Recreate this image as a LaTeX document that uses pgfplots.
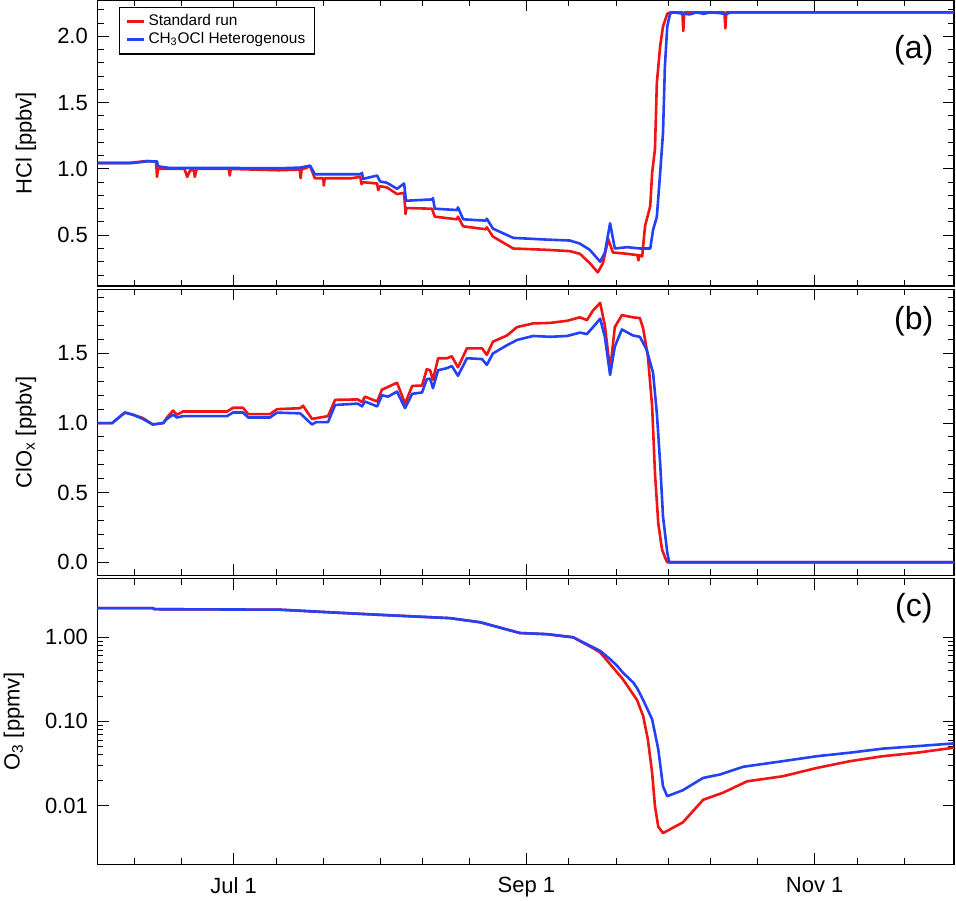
\documentclass[border=0pt]{standalone}
\usepackage{fontspec}
\setmainfont{Liberation Sans}
\usepackage{pgfplots}
\pgfplotsset{compat=1.18}
\definecolor{myred}{RGB}{240,20,20}
\definecolor{myblue}{RGB}{35,65,245}
\begin{document}
\begin{tikzpicture}
\pgfplotsset{
 panel/.style={
  width=428.25pt, height=142.9pt, scale only axis, anchor=south west,
  xmin=153.2, xmax=334.5,
  xtick={182,244,305},
  minor xtick={161,171,191,201,213,222,232,253,263,274,283,293,314,324},
  xticklabels={},
  tick align=inside,
  major tick length=5.5pt, minor tick length=3pt,
  every tick/.style={black, line width=0.5pt},
  axis line style={line width=0.8pt},
  tick label style={font=\fontsize{11}{13}\selectfont},
  yticklabel style={xshift=-1.3pt},
  xticklabel style={yshift=-3pt},
  label style={font=\fontsize{11}{13}\selectfont},
  /pgf/number format/assume math mode=true,
  every axis plot/.append style={line width=1.3pt, line join=round, no markers},
 },
}
% ---------------- (a) HCl ----------------
\begin{axis}[panel, at={(0,289pt)},
  ymin=0.115, ymax=2.27,
  ytick={0.5,1.0,1.5,2.0},
  minor ytick={0.2,0.3,0.4,0.6,0.7,0.8,0.9,1.1,1.2,1.3,1.4,1.6,1.7,1.8,1.9,2.1,2.2},
  yticklabel style={/pgf/number format/.cd, fixed, fixed zerofill, precision=1},
  ylabel={HCl [ppbv]},
  ylabel style={at={(axis description cs:-0.0835,0.5)}, anchor=center},
  legend style={at={(0.025,0.977)}, anchor=north west, draw=black, line width=0.6pt,
    font=\fontsize{7.7}{9}\selectfont, inner xsep=3pt, inner ysep=2pt, row sep=-1pt,
    nodes={inner sep=1.5pt}},
  legend cell align=left,
  legend image code/.code={\draw[#1, line width=1.5pt] (0pt,0pt) -- (8.5pt,0pt);},
]
\addplot[myred] coordinates {
(153.2,1.045) (160.0,1.045) (163.7,1.06) (165.6,1.055) (165.8,0.94) (166.0,1.0)
(171.6,1.0) (172.2,0.94) (172.8,0.99) (173.6,0.99) (173.8,0.94) (174.2,1.0)
(181.0,1.0) (181.2,0.95) (181.4,1.0) (191.5,0.99) (196.0,0.995) (196.2,0.93) (196.4,0.995)
(198.2,1.02) (199.2,0.93) (201.0,0.93) (201.1,0.875) (201.3,0.93) (207.0,0.93) (208.8,0.94)
(209.1,0.885) (209.4,0.90) (212.4,0.89) (212.6,0.84) (213.0,0.87) (214.5,0.86) (216.6,0.81)
(218.1,0.82) (218.4,0.66) (218.6,0.705) (224.0,0.70) (224.6,0.64) (229.3,0.62) (229.5,0.64)
(230.6,0.567) (235.4,0.545) (235.6,0.56) (236.9,0.49) (241.2,0.40) (248.3,0.39) (253.2,0.38)
(255.3,0.36) (257.4,0.29) (259.1,0.22) (260.2,0.29) (261.3,0.47) (262.3,0.37) (265.3,0.36)
(267.5,0.35) (267.7,0.31) (267.9,0.35) (268.5,0.34) (269.1,0.57) (270.2,0.72) (270.6,0.97)
(271.2,1.15) (271.6,1.65) (272.3,1.925) (272.9,2.075) (273.8,2.17) (274.5,2.18) (277.0,2.18)
(277.2,2.04) (277.4,2.18) (285.9,2.18) (286.1,2.06) (286.3,2.18) (289.2,2.18) (334.5,2.18)
};
\addlegendentry{Standard run}
\addplot[myblue] coordinates {
(153.2,1.045) (160.7,1.045) (163.7,1.057) (165.8,1.057) (166.0,1.02) (168.5,1.007) (181.0,1.007)
(191.8,1.005) (196.1,1.01) (198.2,1.025) (199.2,0.96) (208.8,0.96) (209.2,0.97) (209.4,0.925)
(212.4,0.95) (213.0,0.906) (214.5,0.895) (216.6,0.85) (218.1,0.89) (218.5,0.76) (224.0,0.77)
(224.2,0.78) (224.6,0.70) (229.3,0.69) (229.5,0.71) (230.6,0.62) (235.4,0.61) (235.6,0.625)
(236.9,0.55) (241.2,0.48) (248.3,0.467) (253.2,0.46) (255.3,0.437) (257.4,0.39) (259.6,0.30)
(260.6,0.37) (261.7,0.59) (262.7,0.40) (265.3,0.41) (268.0,0.40) (270.2,0.40) (270.8,0.54)
(271.6,0.64) (272.3,0.97) (272.9,1.27) (273.3,1.77) (273.8,2.075) (274.4,2.17) (275.0,2.18)
(277.5,2.17) (278.5,2.165) (280.0,2.18) (281.5,2.17) (283.0,2.18) (285.0,2.175) (286.3,2.165)
(287.0,2.18) (334.5,2.18)
};
\addlegendentry{CH\textsubscript{3}OCl Heterogenous}
\node[font=\fontsize{16}{18}\selectfont] at (rel axis cs:0.953,0.827) {(a)};
\end{axis}
% ---------------- (b) ClOx ----------------
\begin{axis}[panel, at={(0,144.5pt)},
  ymin=-0.094, ymax=1.96,
  ytick={0,0.5,1.0,1.5},
  minor ytick={0.1,0.2,0.3,0.4,0.6,0.7,0.8,0.9,1.1,1.2,1.3,1.4,1.6,1.7,1.8,1.9},
  yticklabel style={/pgf/number format/.cd, fixed, fixed zerofill, precision=1},
  ylabel={ClO\textsubscript{x} [ppbv]},
  ylabel style={at={(axis description cs:-0.0835,0.5)}, anchor=center},
]
\addplot[myred] coordinates {
(153.2,1.0) (156.3,1.0) (159.0,1.076) (160.7,1.06) (162.8,1.036) (164.9,0.99) (167.1,1.0)
(167.9,1.04) (169.2,1.09) (170.0,1.06) (171.3,1.083) (180.6,1.083) (181.9,1.11) (184.0,1.11)
(185.1,1.064) (189.7,1.064) (191.2,1.10) (196.1,1.107) (196.7,1.125) (198.6,1.03) (202.0,1.05)
(203.5,1.167) (208.3,1.17) (209.2,1.15) (209.8,1.19) (212.4,1.155) (213.4,1.24) (214.7,1.26)
(216.6,1.29) (218.3,1.14) (219.8,1.267) (221.9,1.27) (222.9,1.387) (223.6,1.38) (224.2,1.31)
(225.3,1.466) (227.2,1.466) (228.2,1.48) (229.5,1.40) (231.4,1.537) (234.6,1.537) (235.6,1.49)
(236.9,1.585) (239.9,1.63) (242.0,1.69) (245.4,1.716) (249.0,1.72) (252.6,1.735) (255.3,1.76)
(256.8,1.74) (258.1,1.81) (259.6,1.864) (260.6,1.70) (261.7,1.38) (262.7,1.69) (264.2,1.776)
(266.5,1.76) (268.0,1.755) (268.7,1.68) (269.7,1.48) (270.6,1.12) (271.2,0.64) (271.9,0.28)
(272.7,0.09) (273.5,0.02) (273.8,0.0) (334.5,0.0)
};
\addplot[myblue] coordinates {
(153.2,1.0) (156.3,1.0) (159.0,1.076) (160.7,1.06) (162.8,1.03) (164.9,0.99) (167.1,1.0)
(167.9,1.03) (169.2,1.06) (170.0,1.04) (171.3,1.05) (180.6,1.05) (181.9,1.076) (184.0,1.076)
(185.1,1.04) (189.7,1.04) (191.2,1.075) (196.1,1.07) (198.6,0.99) (199.5,1.007) (202.0,1.007)
(203.5,1.13) (208.3,1.14) (209.2,1.12) (209.8,1.155) (212.4,1.12) (213.4,1.2) (214.7,1.19)
(216.6,1.226) (218.3,1.107) (219.8,1.21) (221.9,1.22) (222.9,1.315) (223.6,1.32) (224.2,1.25)
(225.3,1.38) (227.2,1.395) (228.2,1.41) (229.5,1.34) (231.4,1.466) (234.6,1.46) (235.6,1.418)
(236.9,1.50) (239.9,1.56) (242.0,1.597) (245.4,1.626) (249.0,1.62) (252.6,1.626) (255.3,1.65)
(256.8,1.64) (258.1,1.69) (259.6,1.75) (260.6,1.62) (261.7,1.346) (262.7,1.55) (264.2,1.673)
(266.5,1.63) (268.0,1.62) (269.1,1.55) (269.5,1.52) (270.8,1.36) (271.6,1.07) (272.3,0.71)
(272.9,0.33) (273.8,0.07) (274.2,0.0) (334.5,0.0)
};
\node[font=\fontsize{16}{18}\selectfont] at (rel axis cs:0.953,0.889) {(b)};
\end{axis}
% ---------------- (c) O3 ----------------
\begin{axis}[panel, at={(0,0)},
  ymode=log, ymin=0.002, ymax=5,
  ytick={0.01,0.1,1},
  yticklabels={0.01,0.10,1.00},
  xticklabels={Jul 1,Sep 1,Nov 1},
  ylabel={O\textsubscript{3} [ppmv]},
  ylabel style={at={(axis description cs:-0.0975,0.5)}, anchor=center},
]
\addplot[myred] coordinates {
(153.2,2.22) (165.0,2.22) (165.2,2.16) (191.8,2.13) (202.6,1.98) (213.0,1.85) (227.8,1.69)
(234.2,1.51) (242.6,1.125) (248.3,1.09) (253.9,1.0) (256.0,0.86) (257.8,0.76) (259.6,0.66)
(261.7,0.48) (264.4,0.318) (267.4,0.18) (268.7,0.116) (269.7,0.061) (270.6,0.0245) (271.2,0.0098)
(271.9,0.0056) (272.9,0.0047) (277.1,0.0063) (281.4,0.0117) (285.6,0.0142) (290.7,0.0194)
(298.3,0.0223) (305.5,0.028) (312.5,0.0337) (319.5,0.0386) (326.7,0.0425) (334.5,0.0487)
};
\addplot[myblue] coordinates {
(153.2,2.22) (165.0,2.22) (165.2,2.16) (191.8,2.13) (202.6,1.98) (213.0,1.85) (227.8,1.69)
(234.2,1.51) (242.6,1.125) (248.3,1.09) (253.9,1.0) (256.0,0.87) (259.6,0.69) (261.7,0.55)
(263.2,0.458) (264.4,0.38) (266.6,0.29) (267.4,0.25) (268.7,0.18) (270.6,0.106) (271.9,0.0466)
(272.9,0.0169) (273.8,0.0129) (277.1,0.0152) (281.4,0.0213) (285.0,0.0234) (289.9,0.0289)
(298.3,0.0337) (305.5,0.0386) (312.5,0.0425) (319.5,0.0475) (326.7,0.0508) (334.5,0.0548)
};
\node[font=\fontsize{16}{18}\selectfont] at (rel axis cs:0.953,0.896) {(c)};
\end{axis}
\pgfresetboundingbox
\path (-48.75pt,-17.85pt) rectangle (429.25pt,432.15pt);
\end{tikzpicture}
\end{document}
